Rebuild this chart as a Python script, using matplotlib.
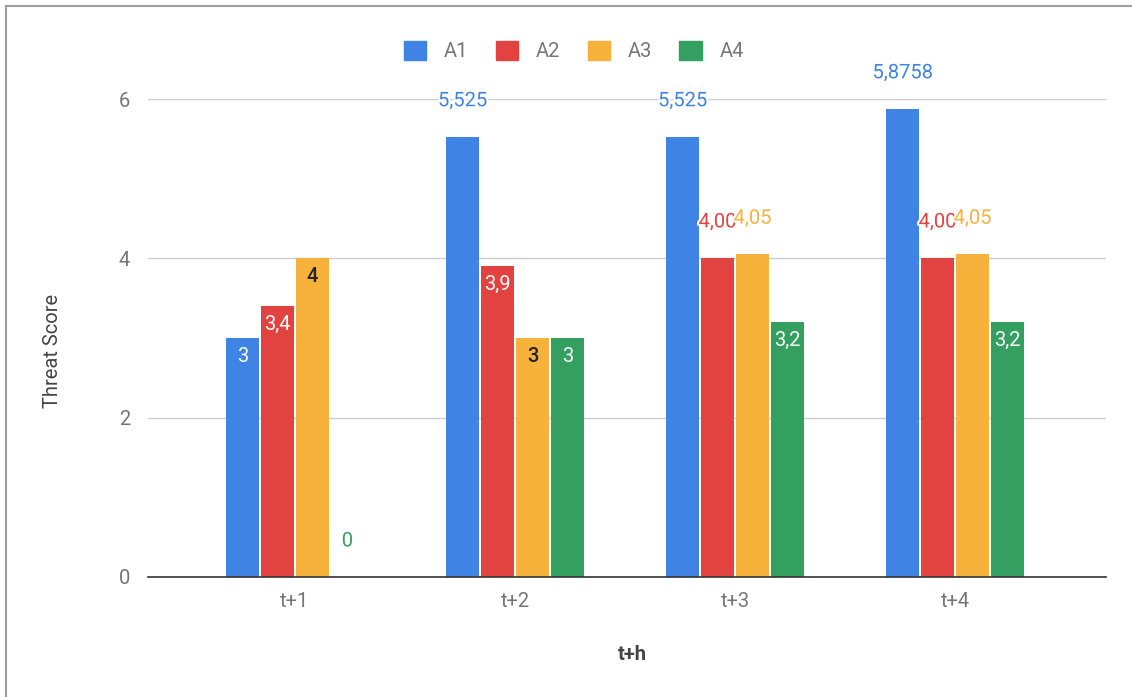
import matplotlib
matplotlib.use("Agg")
import matplotlib.pyplot as plt
import matplotlib.patheffects as pe
from matplotlib.lines import Line2D
import numpy as np

plt.rcParams['font.family'] = ['Roboto', 'DejaVu Sans']

categories = ["t+1", "t+2", "t+3", "t+4"]
series_names = ["A1", "A2", "A3", "A4"]
A1 = [3, 5.525, 5.525, 5.8758]
A2 = [3.4, 3.9, 4.004, 4.004]
A3 = [4, 3, 4.05, 4.05]
A4 = [0, 3, 3.2, 3.2]
label_text = {
    "A1": ["3", "5,525", "5,525", "5,8758"],
    "A2": ["3,4", "3,9", "4,00", "4,00"],
    "A3": ["4", "3", "4,05", "4,05"],
    "A4": ["0", "3", "3,2", "3,2"],
}
# 'in' = label inside bar top, 'out' = above bar
label_pos = {
    "A1": ["in", "out", "out", "out"],
    "A2": ["in", "in", "out", "out"],
    "A3": ["in", "in", "out", "out"],
    "A4": ["out", "in", "in", "in"],
}
colors = ["#3F84E5", "#E24340", "#F7B23B", "#33A05F"]
inside_text = ["white", "white", "#222222", "white"]

W, H = 1132, 697
fig = plt.figure(figsize=(W / 100, H / 100), dpi=100)
ax = fig.add_axes([148 / W, 1 - 577 / H, (1106 - 148) / W, (577 - 99) / H])

x = np.arange(len(categories))
data = [A1, A2, A3, A4]
bw = 0.15
step = 0.159
FS = 14.5
for i, (name, vals) in enumerate(zip(series_names, data)):
    xs = x + (i - 1.5) * step
    ax.bar(xs, vals, width=bw, color=colors[i], zorder=3, label=name)
    for j, v in enumerate(vals):
        txt = label_text[name][j]
        if label_pos[name][j] == "in":
            ax.annotate(txt, (xs[j], v), xytext=(0, -13), textcoords="offset points",
                        ha="center", va="center", fontsize=FS, color=inside_text[i],
                        zorder=5, annotation_clip=False,
                        fontweight="medium" if i == 2 else "normal")
        else:
            ax.annotate(txt, (xs[j], v), xytext=(0, 26), textcoords="offset points",
                        ha="center", va="center", fontsize=FS, color=colors[i],
                        zorder=5, annotation_clip=False,
                        path_effects=[pe.withStroke(linewidth=3, foreground="white")])

ax.set_xlim(-0.668, 3.686)
ax.set_ylim(0, 6)
ax.set_yticks([0, 2, 4, 6])
ax.set_yticklabels(["0", "2", "4", "6"])
ax.set_xticks(x)
ax.set_xticklabels(categories)
ax.tick_params(axis="both", length=0, labelsize=FS, colors="#757575")
ax.tick_params(axis="y", pad=13)
ax.tick_params(axis="x", pad=11)
ax.grid(axis="y", color="#cccccc", linewidth=1, zorder=0)
for s in ["top", "right", "left"]:
    ax.spines[s].set_visible(False)
ax.spines["bottom"].set_color("#333333")
ax.spines["bottom"].set_linewidth(1.2)
ax.spines["bottom"].set_zorder(4)

fig.text(53 / W, 1 - 351 / H, "Threat Score", rotation=90, ha="center", va="center",
         fontsize=FS, color="#444444")
fig.text(632 / W, 1 - 655 / H, "t+h", ha="center", va="center",
         fontsize=FS, color="#444444", fontweight="bold")

handles = [plt.Rectangle((0, 0), 1, 1, color=c) for c in colors]
fig.legend(handles, series_names, loc="center", bbox_to_anchor=(574 / W, 1 - 51 / H),
           ncol=4, frameon=False, fontsize=FS, handlelength=1.1, handleheight=1.1,
           columnspacing=1.35, handletextpad=0.9, labelcolor="#757575")

# border
fig.add_artist(Line2D([6 / W, 6 / W], [0, 1 - 6 / H], transform=fig.transFigure,
                      color="#9e9e9e", linewidth=1.5))
fig.add_artist(Line2D([6 / W, 1], [1 - 6 / H, 1 - 6 / H], transform=fig.transFigure,
                      color="#9e9e9e", linewidth=1.5))

fig.savefig("out.png", dpi=100)
